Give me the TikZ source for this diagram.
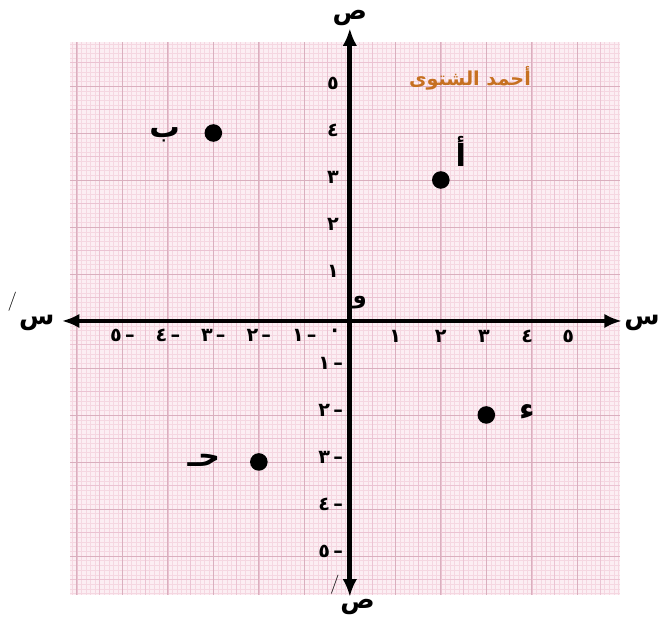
\documentclass[tikz,border=0pt]{standalone}
\usepackage{fontspec}
\usepackage{tikz}
\usetikzlibrary{arrows.meta, positioning}
\newfontfamily\arabicfont[Script=Arabic]{DejaVu Sans}
\TeXXeTstate=1
\definecolor{paper}{RGB}{252,238,243}
\definecolor{gridfine}{RGB}{245,215,225}
\definecolor{gridhalf}{RGB}{235,195,210}
\definecolor{gridmain}{RGB}{218,175,190}
\definecolor{signcol}{RGB}{198,112,32}

\begin{document}
\begin{tikzpicture}[
      x=1cm, y=1.033cm,
      axis/.style={line width=3pt, {Latex[length=11pt,width=9pt]}-{Latex[length=11pt,width=9pt]}},
      tick/.style={font=\arabicfont\fontsize{12}{14}\selectfont\bfseries, inner sep=0pt},
      axlabel/.style={font=\arabicfont\fontsize{16}{19}\selectfont\bfseries, inner sep=0pt},
      ptlabel/.style={font=\arabicfont\fontsize{19}{22}\selectfont\bfseries, inner sep=0pt},
      prime/.style={font=\fontsize{12}{14}\selectfont, inner sep=0pt},
      dot/.style={circle, fill=black, inner sep=0pt, minimum size=11pt}
    ]
    \useasboundingbox (-7.69,-6.43) rectangle (6.84,6.83);

    % graph paper
    \fill[paper] (-6.15,-5.83) rectangle (5.93,5.94);
    \draw[gridfine, line width=0.2pt, step={(0.1,0.1)}] (-6.15,-5.83) grid (5.93,5.94);
    \draw[gridhalf, line width=0.35pt, step={(0.5,0.5)}] (-6.15,-5.83) grid (5.93,5.94);
    \draw[gridmain, line width=0.5pt, step={(1,1)}] (-6.15,-5.83) grid (5.93,5.94);

    \node[font=\arabicfont\fontsize{12}{14}\selectfont\bfseries, text=signcol] (sign) at (2.64,5.17) {\beginR أحمد الشتوى\endR};

    % axes
    \coordinate (L) at (-6.33,0);
    \coordinate (R) at (5.98,0);
    \coordinate (T) at (0,6.23);
    \coordinate (B) at (0,-5.87);
    \draw[axis] (L) -- (R);
    \draw[axis] (B) -- (T);

    \node[axlabel] (xr) at (6.42,-0.05) {\beginR س\endR};
    \node[axlabel] (xl) at (-6.88,-0.05) {\beginR س\endR};
    \node[prime] (xlp) at (-7.42,0.4) {/};
    \node[axlabel] (yt) at (0,6.45) {\beginR ص\endR};
    \node[axlabel] (yb) at (0.17,-6.08) {\beginR ص\endR};
    \node[prime] (ybp) at (-0.33,-5.62) {/};

    \node[tick] (o0) at (-0.33,-0.26) {\textbf{·}};
    \node[font=\arabicfont\fontsize{14}{16}\selectfont\bfseries, inner sep=0pt] (o) at (0.22,0.4) {\beginR و\endR};

    % scale marks
    \foreach \k/\d/\px in {1/١/1.0, 2/٢/2.0, 3/٣/2.95, 4/٤/3.9, 5/٥/4.8} {
      \node[tick] (xp\k) at (\px,-0.33) {\d};
      \node[tick] (xn\k) at (-\k,-0.3) {\d\,–};
      \node[tick] (yp\k) at (-0.37,\k+0.05) {\d};
      \node[tick] (yn\k) at (-0.42,-\k+0.1) {\d\,–};
    }

    % points
    \node[dot] (A) at (2,3) {};
    \node[dot] (Bp) at (-3,4) {};
    \node[dot] (C) at (-2,-3) {};
    \node[dot] (D) at (3,-2) {};
    \node[ptlabel] (Alab) at (2.44,3.6) {\beginR أ\endR};
    \node[ptlabel] (Blab) at (-4.07,3.96) {\beginR ب\endR};
    \node[ptlabel] (Clab) at (-3.21,-2.96) {\beginR حـ\endR};
    \node[ptlabel] (Dlab) at (3.89,-1.94) {\beginR ء\endR};
  \end{tikzpicture}
\end{document}
